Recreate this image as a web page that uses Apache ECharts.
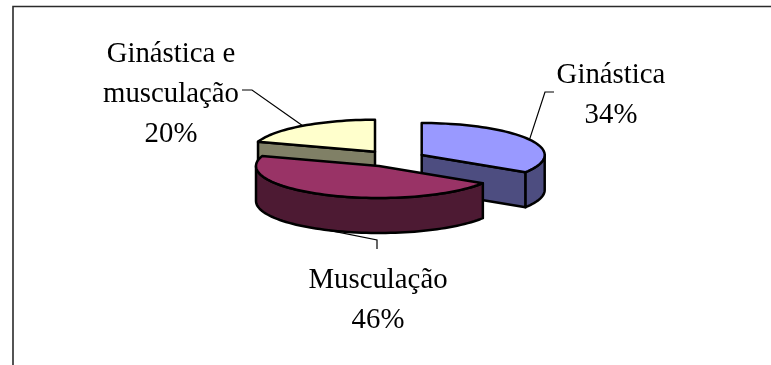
<!DOCTYPE html>
<html>
<head>
<meta charset="utf-8">
<style>html,body{margin:0;padding:0;background:#fff}#chart{width:771px;height:365px}</style>
<script src="https://cdn.jsdelivr.net/npm/echarts@6/dist/echarts.min.js"></script>
</head>
<body>
<div id="chart"></div>
<script>
// Share of respondents by activity
const categories = ['Ginástica', 'Musculação', 'Ginástica e\nmusculação'];
const shares = [34, 46, 20];

// Presentation of the tilted, exploded pie (in axis units, which equal pixels here)
const topColors = ['#9999FF', '#993366', '#FFFFCC'];
const sideColors = ['#4D4D80', '#4D1A33', '#808066'];
const sliceCenters = [[421.7, 155], [379, 166], [375, 151.7]];
const labelCenters = [[611, 55], [378, 260], [171, 34]];
const leaderBends = [[[545, 92], [554, 92]], [[377, 240], [377, 249]], [[252, 90], [242, 90]]];
const drawOrder = [1, 2, 0];
const radiusX = 123, radiusY = 32, depth = 35;

const total = shares.reduce((a, b) => a + b, 0);

function renderSlice(params, api) {
  const i = params.dataIndex;
  const before = shares.slice(0, i).reduce((a, b) => a + b, 0);
  const start = before / total * 2 * Math.PI;
  const end = (before + api.value(1)) / total * 2 * Math.PI;
  const [cx, cy] = sliceCenters[i];
  const z = drawOrder[i];

  const rim = (t, drop = 0) => [cx + radiusX * Math.sin(t), cy - radiusY * Math.cos(t) + drop];
  const px = p => api.coord(p);
  const arc = (a, b, drop = 0) => {
    const n = Math.max(2, Math.ceil((b - a) / 0.04));
    const out = [];
    for (let k = 0; k <= n; k++) out.push(rim(a + (b - a) * k / n, drop));
    return out;
  };
  const face = (points, fill, rank) => ({
    type: 'polygon',
    z2: z * 10 + rank,
    shape: { points: points.map(px) },
    style: { fill, stroke: '#000', lineWidth: 2.5, lineJoin: 'round' }
  });

  const children = [];
  // Radial cut faces that turn toward the viewer
  if (Math.sin(start) < 0) {
    children.push(face([[cx, cy], rim(start), rim(start, depth), [cx, cy + depth]], sideColors[i], 1));
  }
  if (Math.sin(end) > 0) {
    children.push(face([[cx, cy], rim(end), rim(end, depth), [cx, cy + depth]], sideColors[i], 1));
  }
  // Outer wall on the near half of the ellipse
  const wallFrom = Math.max(start, Math.PI / 2);
  const wallTo = Math.min(end, Math.PI * 1.5);
  if (wallTo > wallFrom) {
    children.push(face(arc(wallFrom, wallTo).concat(arc(wallFrom, wallTo, depth).reverse()), sideColors[i], 2));
  }
  // Top surface
  children.push(face([[cx, cy]].concat(arc(start, end)), topColors[i], 3));

  // Leader line from the rim at the slice's mid angle
  const mid = (start + end) / 2;
  const anchor = rim(mid, Math.cos(mid) < 0 ? depth : 0);
  children.push({
    type: 'polyline',
    z2: 100,
    shape: { points: [anchor].concat(leaderBends[i]).map(px) },
    style: { fill: 'none', stroke: '#000', lineWidth: 1.2 }
  });

  // Category name with its percentage
  const at = px(labelCenters[i]);
  children.push({
    type: 'text',
    z2: 101,
    x: at[0],
    y: at[1],
    scaleX: 0.96,
    style: {
      text: categories[i] + '\n' + api.value(1) + '%',
      font: '30px "Liberation Serif"',
      lineHeight: 40,
      fill: '#000',
      align: 'center',
      verticalAlign: 'top'
    }
  });
  return { type: 'group', children };
}

const chart = echarts.init(document.getElementById('chart'), null, { renderer: 'canvas' });
chart.setOption({
  animation: false,
  backgroundColor: '#fff',
  grid: { left: 0, right: 0, top: 0, bottom: 0 },
  xAxis: { type: 'value', min: 0, max: 771, show: false },
  yAxis: { type: 'value', min: 0, max: 365, inverse: true, show: false },
  graphic: [{
    type: 'polyline',
    shape: { points: [[13, 365], [13, 6.5], [771, 6.5]] },
    style: { fill: 'none', stroke: '#2b2b2b', lineWidth: 1.6 }
  }],
  series: [{
    type: 'custom',
    coordinateSystem: 'cartesian2d',
    clip: false,
    silent: true,
    renderItem: renderSlice,
    data: shares.map((v, i) => [i, v])
  }]
});
</script>
</body>
</html>
